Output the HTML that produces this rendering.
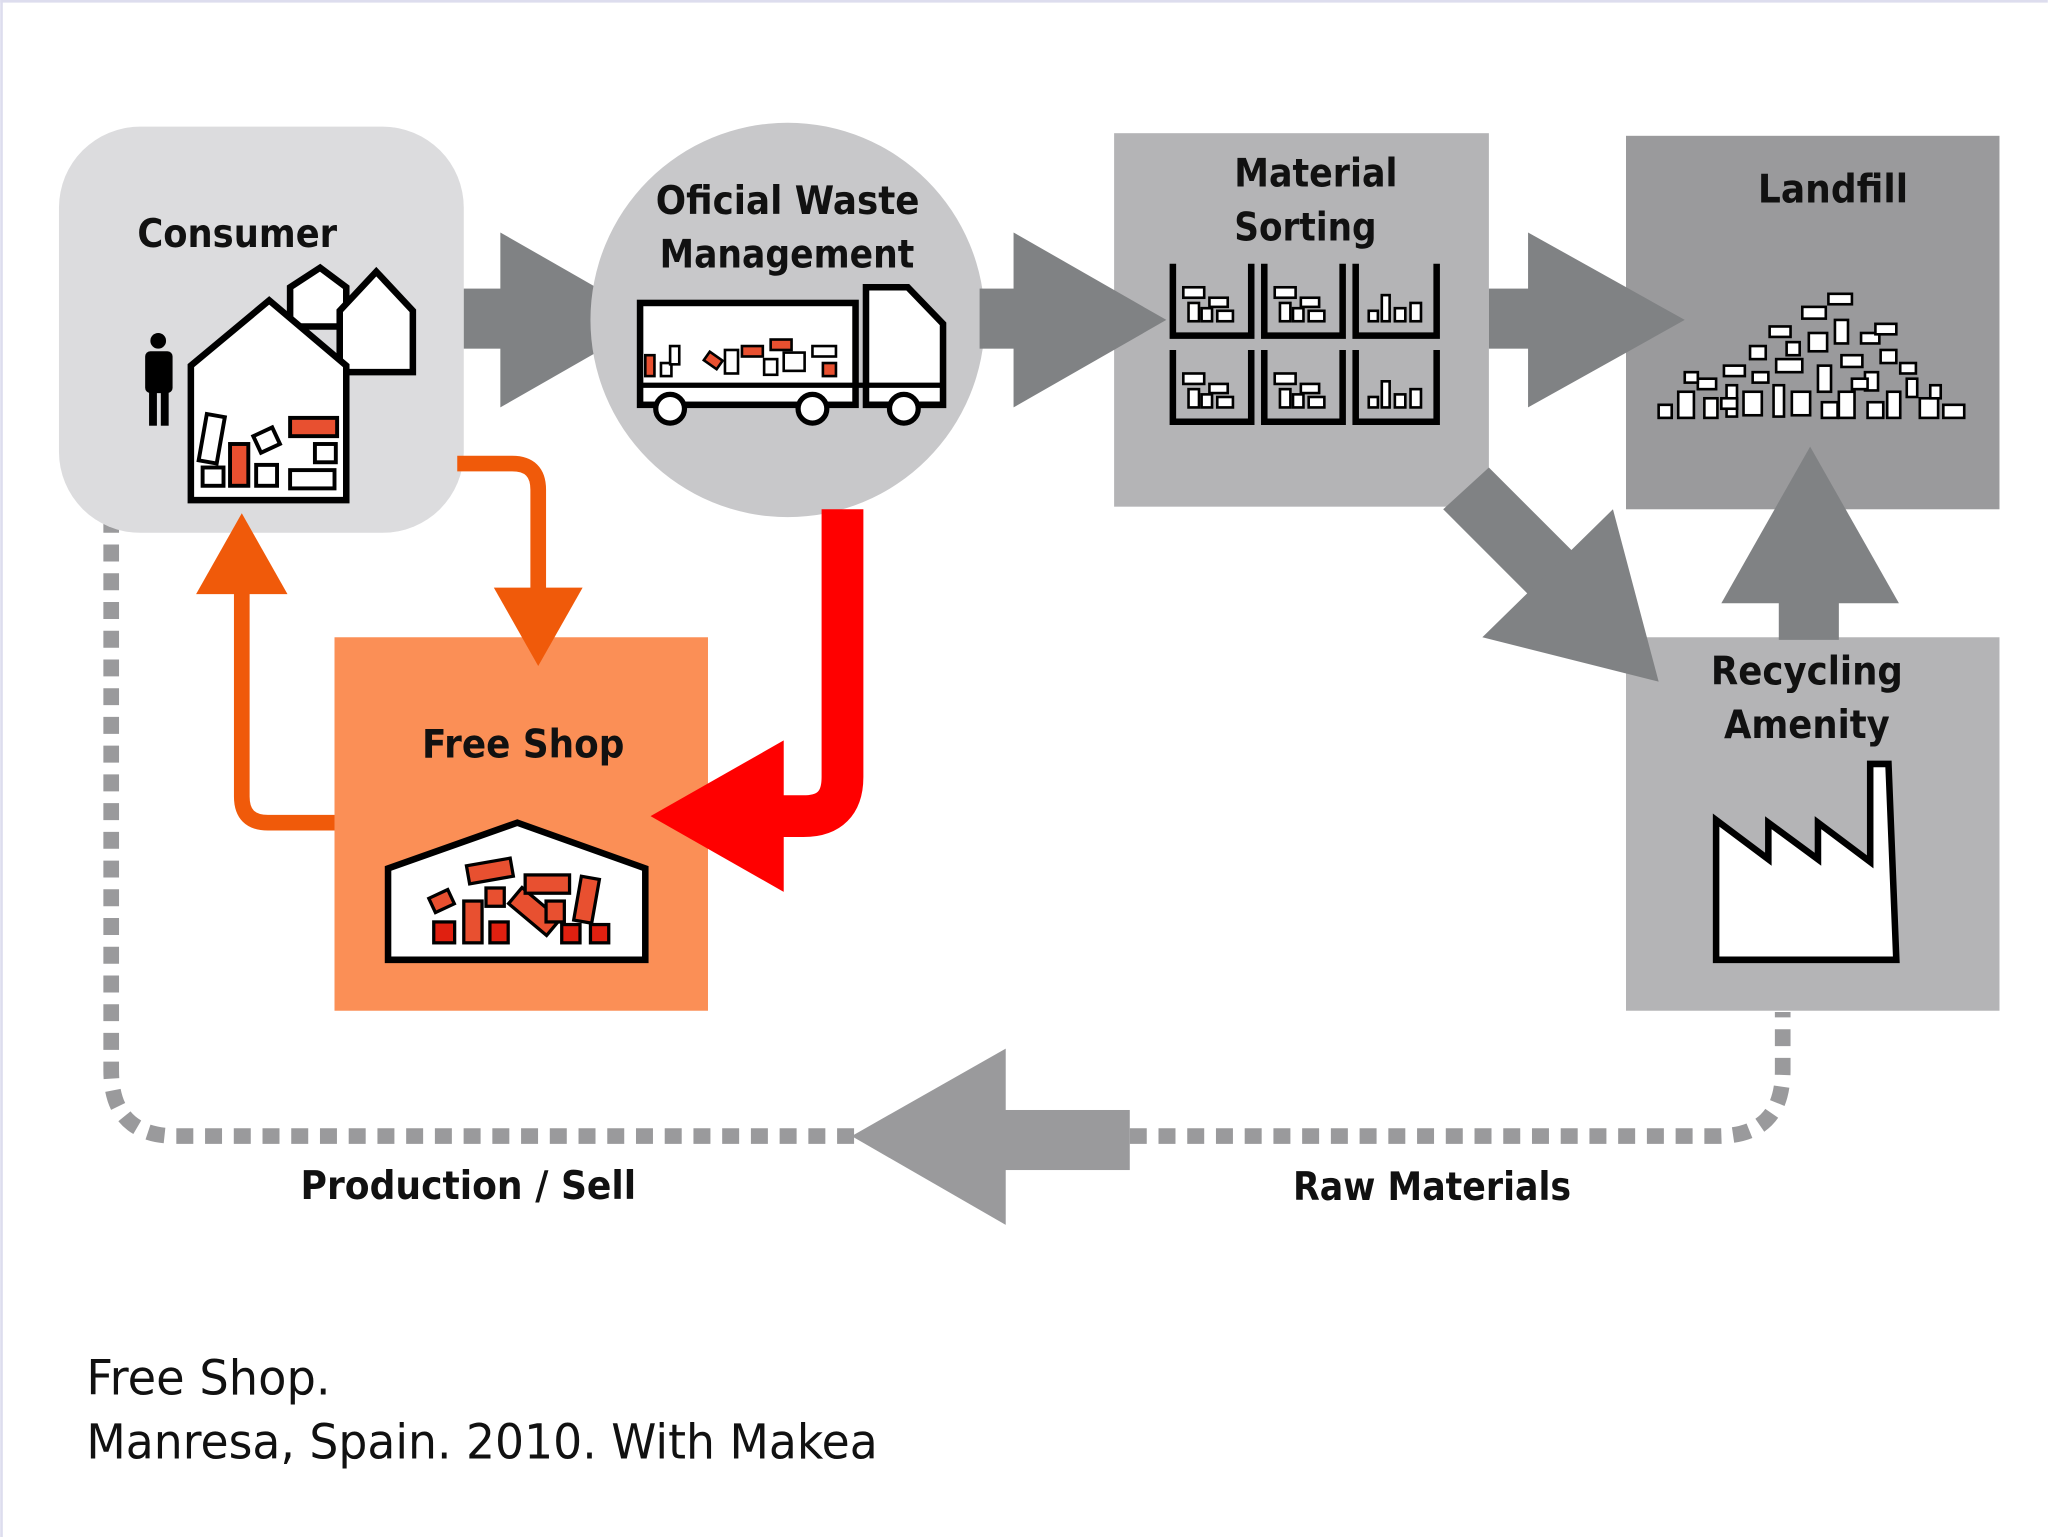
<!DOCTYPE html>
<html><head><meta charset="utf-8"><style>
html,body{margin:0;padding:0;background:#fff;}
svg{display:block;}
text{font-family:"DejaVu Sans","Liberation Sans",sans-serif;}
</style></head><body>
<svg width="2048" height="1537" viewBox="0 0 1568 1177" xmlns="http://www.w3.org/2000/svg">
<rect x="0" y="0" width="1568" height="1177" fill="#fff"/>
<line x1="0" y1="1" x2="1568" y2="1" stroke="#dde" stroke-width="2"/>
<line x1="1" y1="0" x2="1" y2="1177" stroke="#dde" stroke-width="2"/>

<path d="M85 395 V820 Q85 870 135 870 H655" fill="none" stroke="#9a9a9c" stroke-width="12" stroke-dasharray="13 9"/>
<path d="M865 870 H1315 Q1365 870 1365 820 V775" fill="none" stroke="#9a9a9c" stroke-width="12" stroke-dasharray="13 9"/>
<rect x="768" y="850" width="97" height="46" fill="#9a9a9c"/>
<polygon points="770,803 652,870 770,938" fill="#9a9a9c"/>

<rect x="45" y="97" width="310" height="311" rx="62" fill="#dcdcde"/>
<rect x="853" y="102" width="287" height="286" fill="#b4b4b6"/>
<rect x="1245" y="104" width="286" height="286" fill="#9a9a9c"/>
<rect x="1245" y="488" width="286" height="286" fill="#b4b4b6"/>
<rect x="256" y="488" width="286" height="286" fill="#fb8f56"/>

<rect x="355" y="221" width="30" height="46" fill="#808284"/>
<polygon points="383,178 500,245 383,312" fill="#808284"/>
<circle cx="603" cy="245" r="151" fill="#c8c8ca"/>
<rect x="750" y="221" width="28" height="46" fill="#808284"/>
<polygon points="776,178 893,245 776,312" fill="#808284"/>
<rect x="1140" y="221" width="32" height="46" fill="#808284"/>
<polygon points="1170,178 1290,245 1170,312" fill="#808284"/>
<polygon points="1105,390 1140,358 1210,428 1175,460" fill="#808284"/>
<polygon points="1235,390 1270,522 1135,488" fill="#808284"/>
<rect x="1362" y="455" width="46" height="35" fill="#808284"/>
<polygon points="1318,462 1386,342 1454,462" fill="#808284"/>

<path d="M645 390 V595 Q645 625 615 625 H595" fill="none" stroke="#f00" stroke-width="32"/>
<polygon points="600,567 498,625 600,683" fill="#f00"/>

<path d="M350 355 H392 Q412 355 412 375 V455" fill="none" stroke="#f05a0a" stroke-width="12"/>
<polygon points="378,450 412,510 446,450" fill="#f05a0a"/>
<path d="M256 630 H205 Q185 630 185 610 V450" fill="none" stroke="#f05a0a" stroke-width="12"/>
<polygon points="150,455 185,393 220,455" fill="#f05a0a"/>

<g stroke="#000" stroke-width="5" fill="#fff">
<polygon points="222,250 222,220 245,205 265,220 265,250"/>
<polygon points="260,285 260,238 288,208 316,238 316,285"/>
<polygon points="146,383 146,280 206,230 265,280 265,383"/>
</g>
<rect x="155" y="318" width="14" height="36" fill="#fff" stroke="#000" stroke-width="3" transform="rotate(10 162 336)"/>
<rect x="176" y="340" width="14" height="32" fill="#e85030" stroke="#000" stroke-width="3"/>
<rect x="196" y="330" width="16" height="14" fill="#fff" stroke="#000" stroke-width="3" transform="rotate(-25 204 337)"/>
<rect x="222" y="320" width="36" height="14" fill="#e85030" stroke="#000" stroke-width="3"/>
<rect x="241" y="340" width="16" height="14" fill="#fff" stroke="#000" stroke-width="3"/>
<rect x="155" y="358" width="16" height="14" fill="#fff" stroke="#000" stroke-width="3"/>
<rect x="196" y="356" width="16" height="16" fill="#fff" stroke="#000" stroke-width="3"/>
<rect x="222" y="360" width="34" height="14" fill="#fff" stroke="#000" stroke-width="3"/>
<circle cx="121" cy="261" r="6" fill="#000"/>
<rect x="111" y="269" width="21" height="32" rx="4" fill="#000"/>
<rect x="114" y="298" width="6" height="28" fill="#000"/>
<rect x="123" y="298" width="6" height="28" fill="#000"/>

<rect x="490" y="232" width="165" height="78" fill="#fff" stroke="#000" stroke-width="5"/>
<polygon points="663,220 695,220 722,248 722,310 663,310" fill="#fff" stroke="#000" stroke-width="5"/>
<line x1="490" y1="295" x2="722" y2="295" stroke="#000" stroke-width="4"/>
<circle cx="513" cy="313" r="11" fill="#fff" stroke="#000" stroke-width="4"/>
<circle cx="622" cy="313" r="11" fill="#fff" stroke="#000" stroke-width="4"/>
<circle cx="692" cy="313" r="11" fill="#fff" stroke="#000" stroke-width="4"/>
<g stroke="#000" stroke-width="2">
<rect x="494" y="272" width="7" height="16" fill="#e85030"/>
<rect x="506" y="278" width="8" height="10" fill="#fff"/>
<rect x="513" y="265" width="7" height="14" fill="#fff"/>
<rect x="540" y="272" width="12" height="8" fill="#e85030" transform="rotate(35 546 276)"/>
<rect x="555" y="268" width="10" height="18" fill="#fff"/>
<rect x="568" y="265" width="16" height="8" fill="#e85030"/>
<rect x="590" y="260" width="16" height="8" fill="#e85030"/>
<rect x="585" y="275" width="10" height="12" fill="#fff"/>
<rect x="600" y="270" width="16" height="14" fill="#fff"/>
<rect x="622" y="265" width="18" height="8" fill="#fff"/>
<rect x="630" y="278" width="10" height="10" fill="#e85030"/>
</g>

<g fill="none" stroke="#000" stroke-width="5">
<path d="M898 202 V257 H958 V202"/><path d="M968 202 V257 H1028 V202"/><path d="M1038 202 V257 H1100 V202"/>
<path d="M898 268 V323 H958 V268"/><path d="M968 268 V323 H1028 V268"/><path d="M1038 268 V323 H1100 V268"/>
</g>
<g fill="#fff" stroke="#000" stroke-width="2">
<rect x="906" y="220" width="16" height="8"/><rect x="910" y="232" width="8" height="14"/><rect x="926" y="228" width="14" height="7"/><rect x="932" y="238" width="12" height="8"/><rect x="920" y="236" width="8" height="10"/>
<rect x="976" y="220" width="16" height="8"/><rect x="980" y="232" width="8" height="14"/><rect x="996" y="228" width="14" height="7"/><rect x="1002" y="238" width="12" height="8"/><rect x="990" y="236" width="8" height="10"/>
<rect x="1048" y="238" width="7" height="8"/><rect x="1058" y="226" width="6" height="20"/><rect x="1068" y="236" width="8" height="10"/><rect x="1080" y="232" width="8" height="14"/>
<rect x="906" y="286" width="16" height="8"/><rect x="910" y="298" width="8" height="14"/><rect x="926" y="294" width="14" height="7"/><rect x="932" y="304" width="12" height="8"/><rect x="920" y="302" width="8" height="10"/>
<rect x="976" y="286" width="16" height="8"/><rect x="980" y="298" width="8" height="14"/><rect x="996" y="294" width="14" height="7"/><rect x="1002" y="304" width="12" height="8"/><rect x="990" y="302" width="8" height="10"/>
<rect x="1048" y="304" width="7" height="8"/><rect x="1058" y="292" width="6" height="20"/><rect x="1068" y="302" width="8" height="10"/><rect x="1080" y="298" width="8" height="14"/>
</g>

<g fill="#fff" stroke="#000" stroke-width="2">
<rect x="1270" y="310" width="10" height="10"/><rect x="1285" y="300" width="12" height="20"/><rect x="1300" y="290" width="14" height="8"/><rect x="1305" y="305" width="10" height="15"/>
<rect x="1320" y="280" width="16" height="8"/><rect x="1322" y="295" width="8" height="24"/><rect x="1335" y="300" width="14" height="18"/><rect x="1340" y="265" width="12" height="10"/>
<rect x="1355" y="250" width="16" height="8"/><rect x="1360" y="275" width="20" height="10"/><rect x="1358" y="295" width="8" height="24"/><rect x="1372" y="300" width="14" height="18"/>
<rect x="1380" y="235" width="18" height="9"/><rect x="1385" y="255" width="14" height="14"/><rect x="1392" y="280" width="10" height="20"/><rect x="1400" y="225" width="18" height="8"/>
<rect x="1405" y="245" width="10" height="18"/><rect x="1410" y="272" width="16" height="9"/><rect x="1408" y="300" width="12" height="20"/><rect x="1425" y="255" width="14" height="8"/>
<rect x="1428" y="285" width="10" height="14"/><rect x="1440" y="268" width="12" height="10"/><rect x="1445" y="300" width="10" height="20"/><rect x="1460" y="290" width="8" height="14"/>
<rect x="1470" y="305" width="14" height="15"/><rect x="1488" y="310" width="16" height="10"/><rect x="1436" y="248" width="16" height="8"/><rect x="1342" y="285" width="12" height="8"/>
<rect x="1290" y="285" width="10" height="8"/><rect x="1368" y="262" width="10" height="10"/><rect x="1418" y="290" width="12" height="8"/><rect x="1455" y="278" width="12" height="8"/>
<rect x="1318" y="305" width="12" height="8"/><rect x="1395" y="308" width="12" height="12"/><rect x="1430" y="308" width="12" height="12"/><rect x="1478" y="295" width="8" height="10"/>
</g>

<polygon points="1314,735 1314,628 1354,658 1354,630 1392,658 1392,630 1432,660 1432,585 1446,585 1452,735" fill="#fff" stroke="#000" stroke-width="5"/>

<polygon points="297,735 297,665 396,630 494,665 494,735" fill="#fff" stroke="#000" stroke-width="5"/>
<g stroke="#000" stroke-width="2.5">
<rect x="332" y="706" width="16" height="16" fill="#e02010"/><rect x="355" y="690" width="14" height="32" fill="#e85030"/>
<rect x="375" y="706" width="14" height="16" fill="#e02010"/><rect x="330" y="684" width="16" height="12" fill="#e85030" transform="rotate(-25 338 690)"/>
<rect x="358" y="660" width="34" height="14" fill="#e85030" transform="rotate(-10 375 667)"/>
<rect x="372" y="680" width="14" height="14" fill="#e85030"/><rect x="390" y="690" width="38" height="16" fill="#e85030" transform="rotate(40 409 698)"/>
<rect x="402" y="670" width="34" height="14" fill="#e85030"/><rect x="418" y="690" width="14" height="16" fill="#e85030"/>
<rect x="442" y="672" width="14" height="34" fill="#e85030" transform="rotate(10 449 689)"/><rect x="430" y="708" width="14" height="14" fill="#e02010"/>
<rect x="452" y="708" width="14" height="14" fill="#e02010"/>
</g>

<g font-weight="bold" font-size="30" fill="#111" lengthAdjust="spacingAndGlyphs">
<text x="105" y="189" textLength="153" lengthAdjust="spacingAndGlyphs">Consumer</text>
<text x="502" y="164" textLength="202" lengthAdjust="spacingAndGlyphs">Oficial Waste</text>
<text x="505" y="205" textLength="195" lengthAdjust="spacingAndGlyphs">Management</text>
<text x="945" y="143" textLength="125" lengthAdjust="spacingAndGlyphs">Material</text>
<text x="945" y="184" textLength="109" lengthAdjust="spacingAndGlyphs">Sorting</text>
<text x="1346" y="155" textLength="115" lengthAdjust="spacingAndGlyphs">Landfill</text>
<text x="1310" y="524" textLength="147" lengthAdjust="spacingAndGlyphs">Recycling</text>
<text x="1320" y="565" textLength="127" lengthAdjust="spacingAndGlyphs">Amenity</text>
<text x="323" y="580" textLength="155" lengthAdjust="spacingAndGlyphs">Free Shop</text>
<text x="230" y="918" textLength="257" lengthAdjust="spacingAndGlyphs">Production / Sell</text>
<text x="990" y="919" textLength="213" lengthAdjust="spacingAndGlyphs">Raw Materials</text>
</g>
<text x="66" y="1068" font-size="37" fill="#111" textLength="187" lengthAdjust="spacingAndGlyphs">Free Shop.</text>
<text x="66" y="1117" font-size="37" fill="#111" textLength="606" lengthAdjust="spacingAndGlyphs">Manresa, Spain. 2010. With Makea</text>
</svg>
</body></html>
